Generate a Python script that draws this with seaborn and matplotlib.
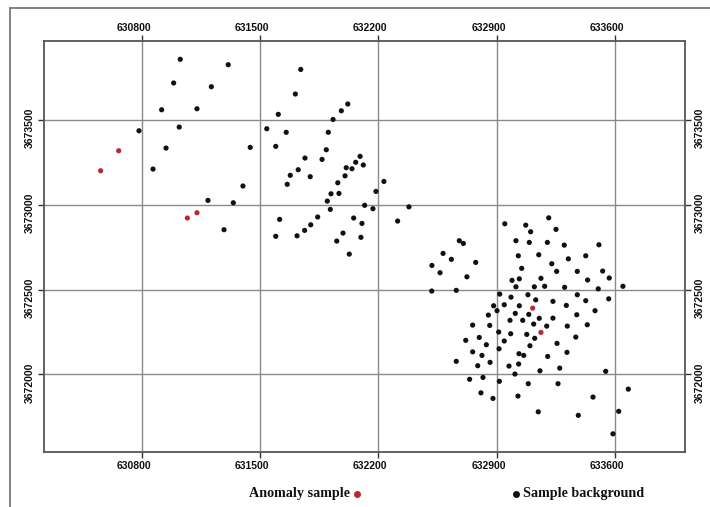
import matplotlib
matplotlib.use("Agg")
import matplotlib.pyplot as plt
import matplotlib.transforms as mtransforms
from matplotlib.lines import Line2D
import numpy as np
import pandas as pd
import seaborn as sns

# Background soil samples: easting / northing (m)
bg_east = [
    631028, 631312, 630989, 631212, 630918, 631127, 630784, 631022, 630944, 631442,
    630867, 631399, 631192, 631342, 631287,
    631741, 631709, 632019, 631981, 631608, 631932, 631540, 631655, 631904, 631593,
    631892, 631766, 631867, 632092, 632066, 632010, 632044, 632111, 631726, 631679,
    631797, 632003, 631661, 631960, 632233, 632186, 631920, 631967, 631898, 632119,
    632168, 632381, 631916, 631616, 631841, 632054, 632314, 631800, 632103, 631764,
    631593, 631719, 631991, 632097, 631954, 632028,
    633208, 632948, 633072, 633101, 633251, 632679, 632703, 633014, 633093, 633200,
    633300, 633505, 632583, 632632, 633028, 633149, 633324, 633427, 632776, 632517,
    633226, 632565, 633048, 633255, 633377, 633527, 632724, 632991, 633034, 633162,
    633438, 633566, 633014, 633123, 633184, 633302, 633501, 633647, 632516, 632661,
    632918, 632985, 633085, 633377, 633563, 633131, 633233, 633427, 632945, 632882,
    633034, 633312, 632902, 633010, 633090, 633482, 633374, 632851, 632979, 633054,
    633119, 633152, 633233, 632758, 632859, 633196, 633318, 633436, 632912, 632983,
    633078, 633125, 632797, 632717, 633368, 632945, 633257, 632839, 633097, 632914,
    632758, 633316, 633032, 633060, 632813, 633202, 632661, 632861, 633030, 632788,
    632973, 633273, 633156, 633545, 633008, 632819, 632740, 632916, 633087, 633263,
    633679, 632807, 633026, 633470, 632878, 633146, 633383, 633622, 633588,
]
bg_north = [
    3673860, 3673828, 3673720, 3673698, 3673562, 3673568, 3673438, 3673460, 3673336, 3673340,
    3673212, 3673112, 3673027, 3673013, 3672854,
    3673800, 3673655, 3673596, 3673556, 3673535, 3673505, 3673450, 3673429, 3673429, 3673346,
    3673326, 3673277, 3673269, 3673287, 3673252, 3673220, 3673214, 3673236, 3673208, 3673175,
    3673167, 3673172, 3673122, 3673131, 3673139, 3673080, 3673066, 3673068, 3673023, 3672998,
    3672978, 3672989, 3672974, 3672915, 3672929, 3672923, 3672905, 3672883, 3672891, 3672850,
    3672815, 3672818, 3672834, 3672809, 3672787, 3672710,
    3672924, 3672889, 3672881, 3672842, 3672856, 3672789, 3672773, 3672789, 3672779, 3672779,
    3672763, 3672765, 3672714, 3672679, 3672700, 3672706, 3672682, 3672700, 3672661, 3672643,
    3672653, 3672600, 3672626, 3672608, 3672608, 3672610, 3672576, 3672555, 3672564, 3672567,
    3672557, 3672569, 3672517, 3672517, 3672520, 3672514, 3672505, 3672520, 3672492, 3672496,
    3672474, 3672456, 3672470, 3672470, 3672446, 3672440, 3672431, 3672435, 3672411, 3672405,
    3672405, 3672407, 3672376, 3672360, 3672354, 3672376, 3672352, 3672350, 3672319, 3672319,
    3672297, 3672331, 3672332, 3672291, 3672289, 3672285, 3672285, 3672293, 3672250, 3672240,
    3672236, 3672213, 3672218, 3672201, 3672220, 3672197, 3672183, 3672175, 3672169, 3672151,
    3672133, 3672130, 3672122, 3672112, 3672112, 3672106, 3672077, 3672071, 3672061, 3672051,
    3672049, 3672037, 3672021, 3672018, 3672002, 3671982, 3671971, 3671959, 3671945, 3671945,
    3671913, 3671891, 3671872, 3671866, 3671858, 3671779, 3671758, 3671782, 3671649,
]

# Anomalous samples
an_east = [630664, 630557, 631070, 631127, 633113, 633162]
an_north = [3673320, 3673202, 3672923, 3672954, 3672391, 3672248]

x_ticks = [630800, 631500, 632200, 632900, 633600]
y_ticks = [3672000, 3672500, 3673000, 3673500]

legend_anomaly = "Anomaly sample"
legend_background = "Sample background"

df = pd.DataFrame({
    "easting": bg_east + an_east,
    "northing": bg_north + an_north,
    "kind": ["background"] * len(bg_east) + ["anomaly"] * len(an_east),
})

sns.set_theme(style="white")
plt.rcParams["font.family"] = ["Liberation Sans", "DejaVu Sans"]

DPI = 100
fig = plt.figure(figsize=(7.10, 5.07), dpi=DPI)
ax = fig.add_axes([44 / 710, 1 - 452.3 / 507, (685.3 - 44) / 710, (452.3 - 41) / 507])

red = "#c0272d"
sns.scatterplot(
    data=df, x="easting", y="northing", hue="kind",
    palette={"background": "#111111", "anomaly": red},
    s=14, linewidth=0, legend=False, ax=ax, zorder=3,
)

ax.set_xlim(630222, 634016)
ax.set_ylim(3671540, 3673968)
ax.set_xticks(x_ticks)
ax.set_yticks(y_ticks)
ax.set_xticklabels([str(v) for v in x_ticks])
ax.set_yticklabels([str(v) for v in y_ticks])
ax.set_xlabel("")
ax.set_ylabel("")

ax.grid(True, color="#8a8a8a", linewidth=1.0, zorder=1)
ax.set_axisbelow(True)
for sp in ax.spines.values():
    sp.set_color("#555555")
    sp.set_linewidth(1.3)

ax.tick_params(axis="x", which="both", top=True, bottom=True, labeltop=True,
               labelbottom=True, direction="out", length=4, width=1.0,
               color="#333333", pad=2, labelsize=7.5, labelcolor="#111111")
ax.tick_params(axis="y", which="both", left=True, right=True, labelleft=True,
               labelright=True, direction="out", length=4, width=1.0,
               color="#333333", pad=3, labelsize=7.5, labelcolor="#111111")

# Tick labels sit slightly off-centre from their ticks
xshift = mtransforms.ScaledTranslation(-8 / DPI, 0, fig.dpi_scale_trans)
yshift = mtransforms.ScaledTranslation(0, -8 / DPI, fig.dpi_scale_trans)
for t in ax.xaxis.get_major_ticks():
    for lab in (t.label1, t.label2):
        lab.set_transform(lab.get_transform() + xshift)
        lab.set_fontweight("bold")
for t in ax.yaxis.get_major_ticks():
    for lab in (t.label1, t.label2):
        lab.set_rotation(90)
        lab.set_va("center")
        lab.set_fontweight("bold")
        lab.set_transform(lab.get_transform() + yshift)
    t.label1.set_ha("right")
    t.label2.set_ha("left")

# Outer frame lines (left and top)
fig.add_artist(Line2D([10 / 710, 10 / 710], [0, 1 - 8 / 507],
                      transform=fig.transFigure, color="#777777", linewidth=1.3))
fig.add_artist(Line2D([10 / 710, 1], [1 - 8 / 507, 1 - 8 / 507],
                      transform=fig.transFigure, color="#777777", linewidth=1.3))

# Legend below the map
serif = ["Liberation Serif", "DejaVu Serif"]
ly = 1 - 494 / 507
fig.text(249 / 710, ly, legend_anomaly, family=serif, fontweight="bold",
         fontsize=10.2, ha="left", va="center", color="#111111")
fig.add_artist(Line2D([357 / 710], [ly], transform=fig.transFigure, marker="o",
                      markersize=4, color=red, linestyle="none"))
fig.add_artist(Line2D([516 / 710], [ly], transform=fig.transFigure, marker="o",
                      markersize=4, color="#111111", linestyle="none"))
fig.text(523 / 710, ly, legend_background, family=serif, fontweight="bold",
         fontsize=10.2, ha="left", va="center", color="#111111")

fig.savefig("out.png", dpi=DPI, facecolor="white")
